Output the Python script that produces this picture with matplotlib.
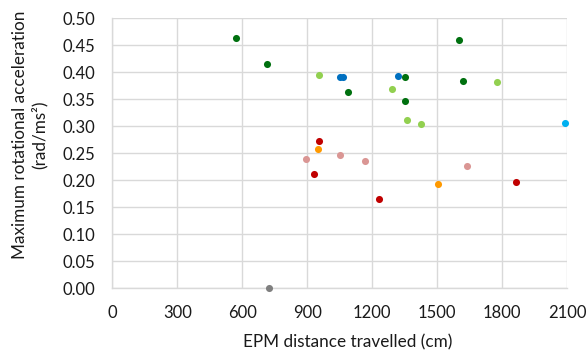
import matplotlib
matplotlib.use("Agg")
import matplotlib.pyplot as plt
import numpy as np

plt.rcParams['font.family'] = ['Lato', 'DejaVu Sans']

# series (by colour group)
dark_green_x = [570, 713, 1090, 1352, 1352, 1600, 1620]
dark_green_y = [0.463, 0.415, 0.364, 0.392, 0.346, 0.459, 0.384]
light_green_x = [955, 1290, 1359, 1425, 1774]
light_green_y = [0.395, 0.370, 0.311, 0.305, 0.382]
blue_x = [1051, 1063, 1320]
blue_y = [0.391, 0.391, 0.393]
cyan_x = [2091]
cyan_y = [0.306]
red_x = [954, 930, 1232, 1865]
red_y = [0.272, 0.212, 0.166, 0.196]
orange_x = [949, 1505]
orange_y = [0.258, 0.193]
pink_x = [895, 1051, 1166, 1636]
pink_y = [0.239, 0.247, 0.235, 0.227]
gray_x = [722]
gray_y = [0.0]

series = [
    (dark_green_x, dark_green_y, '#00700F'),
    (light_green_x, light_green_y, '#92D050'),
    (blue_x, blue_y, '#0070C0'),
    (cyan_x, cyan_y, '#00B0F0'),
    (red_x, red_y, '#C00000'),
    (orange_x, orange_y, '#FF9900'),
    (pink_x, pink_y, '#DA9694'),
    (gray_x, gray_y, '#7F7F7F'),
]

x_ticks = [0, 300, 600, 900, 1200, 1500, 1800, 2100]
y_ticks = [0.0, 0.05, 0.10, 0.15, 0.20, 0.25, 0.30, 0.35, 0.40, 0.45, 0.50]

W, H = 587, 351
fig = plt.figure(figsize=(W / 100, H / 100), dpi=100)
ax = fig.add_axes([112.3 / W, 1 - 288.3 / H, 455 / W, 270 / H])

for xs, ys, c in series:
    ax.scatter(xs, ys, s=26, color=c, zorder=3, linewidths=0, clip_on=False)

txt = '#1a1a1a'
ax.set_xlim(0, 2100)
ax.set_ylim(0, 0.5)
ax.set_xticks(x_ticks)
ax.set_yticks(y_ticks)
ax.set_xticklabels([str(v) for v in x_ticks])
ax.set_yticklabels([f"{v:.2f}" for v in y_ticks])
ax.grid(True, color='#D9D9D9', linewidth=1)
ax.set_axisbelow(True)
for s in ['top', 'right']:
    ax.spines[s].set_visible(False)
for s in ['left', 'bottom']:
    ax.spines[s].set_color('#D9D9D9')
    ax.spines[s].set_linewidth(1)
ax.tick_params(length=0, labelsize=12, colors=txt)
ax.tick_params(axis='y', pad=12)
ax.tick_params(axis='x', pad=12)

fig.text(347.7 / W, 1 - 342 / H, 'EPM distance travelled (cm)', fontsize=12.3,
         color=txt, ha='center', va='center')
fig.text(30 / W, 1 - 135 / H, 'Maximum rotational acceleration\n(rad/ms²)',
         fontsize=12.3, color=txt, ha='center', va='center', rotation=90,
         multialignment='center', linespacing=1.25)

fig.savefig('out.png', dpi=100)
